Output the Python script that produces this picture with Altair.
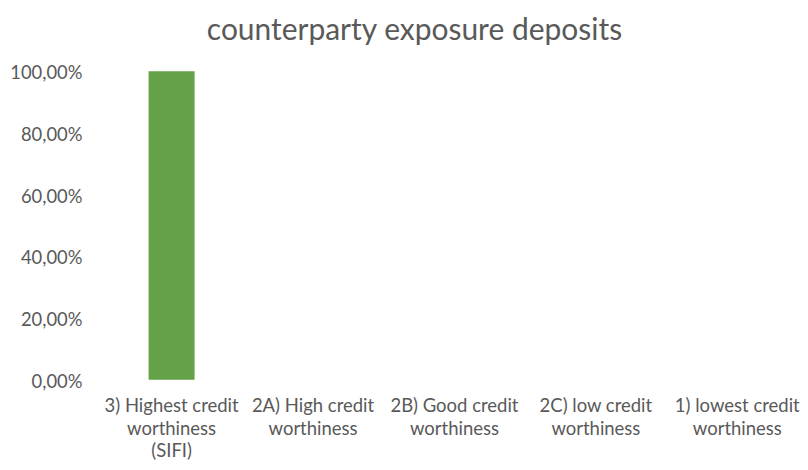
import altair as alt
import pandas as pd

categories = [
    "3) Highest credit worthiness (SIFI)",
    "2A) High credit worthiness",
    "2B) Good credit worthiness",
    "2C) low credit worthiness",
    "1) lowest credit worthiness",
]
label_lines = [
    ["3) Highest credit", "worthiness", "(SIFI)"],
    ["2A) High credit", "worthiness"],
    ["2B) Good credit", "worthiness"],
    ["2C) low credit", "worthiness"],
    ["1) lowest credit", "worthiness"],
]
values = [1.0, 0.0, 0.0, 0.0, 0.0]
y_ticks = [0, 0.2, 0.4, 0.6, 0.8, 1.0]

df = pd.DataFrame({"category": categories, "value": values})

mapping = "{" + ", ".join(
    "'" + c + "': [" + ", ".join("'" + l + "'" for l in lines) + "]"
    for c, lines in zip(categories, label_lines)
) + "}"
label_expr = mapping + "[datum.label]"

FONT = "Lato"
GREY = "#595959"

chart = (
    alt.Chart(df)
    .mark_bar(color="#64A247")
    .encode(
        x=alt.X(
            "category:N",
            sort=categories,
            scale=alt.Scale(paddingInner=0.675, paddingOuter=0.3375),
            axis=alt.Axis(
                title=None,
                labelAngle=0,
                labelExpr=label_expr,
                labelFont=FONT,
                labelFontSize=18.5,
                labelColor=GREY,
                labelLineHeight=22.5,
                labelPadding=17,
                ticks=False,
                domain=False,
                grid=False,
                labelLimit=0,
            ),
        ),
        y=alt.Y(
            "value:Q",
            scale=alt.Scale(domain=[0, 1], nice=False),
            axis=alt.Axis(
                title=None,
                values=y_ticks,
                labelExpr="replace(format(datum.value, '.2%'), '.', ',')",
                labelFont=FONT,
                labelFontSize=18.4,
                labelColor=GREY,
                labelPadding=19,
                labelOffset=1.5,
                ticks=False,
                domain=False,
                grid=False,
            ),
        ),
    )
    .properties(
        width=708,
        height=309,
        autosize=alt.AutoSizeParams(type="none"),
        padding={"left": 101, "top": 71, "right": 0, "bottom": 90},
        background="white",
        title=alt.TitleParams(
            "counterparty exposure deposits",
            font=FONT,
            fontSize=30,
            fontWeight="normal",
            color=GREY,
            anchor="middle",
            dx=-40,
            dy=12,
            baseline="bottom",
            offset=0,
        ),
    )
    .configure_view(strokeWidth=0)
)

chart.save("out.html", embed_options={"renderer": "svg", "actions": False})
